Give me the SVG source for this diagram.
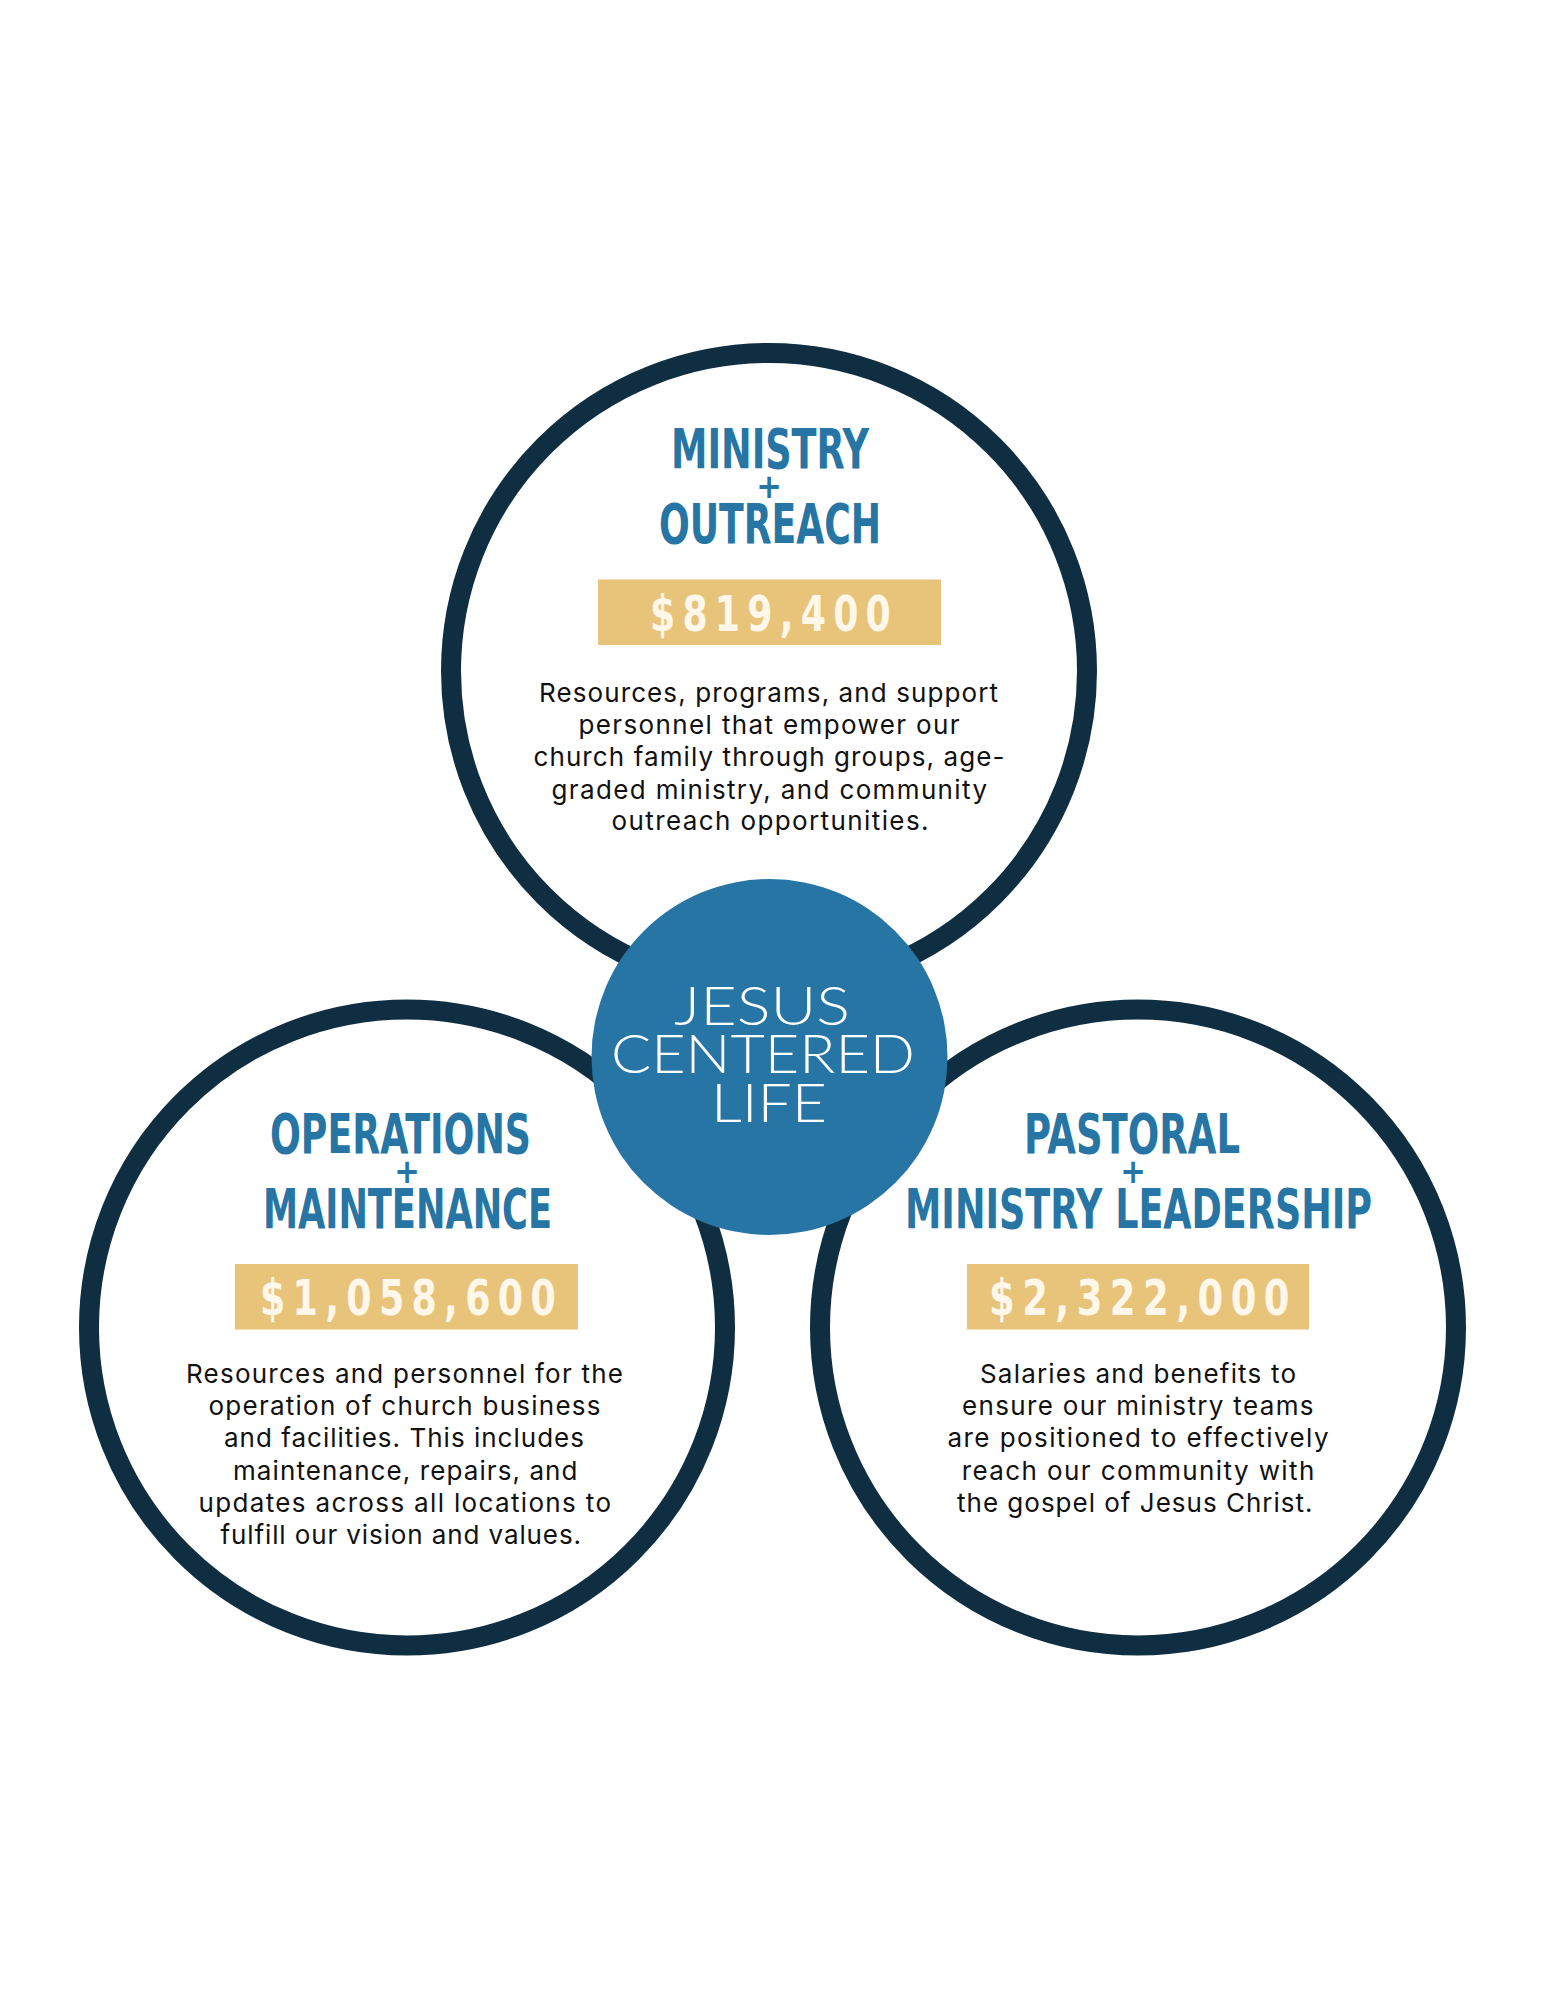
<svg xmlns="http://www.w3.org/2000/svg" width="1545" height="1999" viewBox="0 0 1545 1999">
<style>
.ring{fill:#ffffff;stroke:#102e42;stroke-width:20}
.head{font-family:'DejaVu Sans Condensed','DejaVu Sans',sans-serif;font-weight:bold;font-size:56px;fill:#2675a4}
.plus{font-family:'DejaVu Sans Condensed','DejaVu Sans',sans-serif;font-weight:bold;font-size:34px;fill:#2675a4;text-anchor:middle}
.box{fill:#e7c47a}
.amt{font-family:'DejaVu Sans Condensed','DejaVu Sans',sans-serif;font-weight:bold;font-size:50px;fill:#fff7ea;letter-spacing:9px}
.body{font-family:Inter,'Noto Sans',sans-serif;font-size:26px;fill:#111111}
.hub{fill:#2675a4}
.hubt{font-family:Lato,'Open Sans',sans-serif;font-weight:300;font-size:53px;fill:#ffffff}
</style>
<rect x="0" y="0" width="1545" height="1999" fill="#ffffff"/>
<g id="connectors"></g>

<g id="node-ministry-outreach">
<circle class="ring" cx="769" cy="671" r="318"/>
<text class="head" x="671" y="468" textLength="198" lengthAdjust="spacingAndGlyphs">MINISTRY</text>
<text class="plus" x="769" y="498">+</text>
<text class="head" x="659" y="543" textLength="222" lengthAdjust="spacingAndGlyphs">OUTREACH</text>
<rect class="box" x="598" y="579.5" width="343" height="65.5"/>
<text class="amt" x="650" y="630.5" textLength="248" lengthAdjust="spacingAndGlyphs">$819,400</text>
<text class="body" x="539" y="702" textLength="459" lengthAdjust="spacing">Resources, programs, and support</text>
<text class="body" x="578.5" y="734" textLength="381" lengthAdjust="spacing">personnel that empower our</text>
<text class="body" x="533.5" y="766" textLength="471" lengthAdjust="spacing">church family through groups, age-</text>
<text class="body" x="551.5" y="798.5" textLength="435.5" lengthAdjust="spacing">graded ministry, and community</text>
<text class="body" x="611.5" y="830" textLength="317" lengthAdjust="spacing">outreach opportunities.</text>
</g>

<g id="node-operations-maintenance">
<circle class="ring" cx="407" cy="1327.5" r="318"/>
<text class="head" x="270" y="1153" textLength="261" lengthAdjust="spacingAndGlyphs">OPERATIONS</text>
<text class="plus" x="407" y="1183">+</text>
<text class="head" x="263" y="1227.5" textLength="289" lengthAdjust="spacingAndGlyphs">MAINTENANCE</text>
<rect class="box" x="235" y="1264" width="343" height="65.5"/>
<text class="amt" x="260" y="1315" textLength="303" lengthAdjust="spacingAndGlyphs">$1,058,600</text>
<text class="body" x="186" y="1383" textLength="437" lengthAdjust="spacing">Resources and personnel for the</text>
<text class="body" x="208.5" y="1415.2" textLength="392" lengthAdjust="spacing">operation of church business</text>
<text class="body" x="224" y="1447.4" textLength="360" lengthAdjust="spacing">and facilities. This includes</text>
<text class="body" x="233" y="1479.6" textLength="344.5" lengthAdjust="spacing">maintenance, repairs, and</text>
<text class="body" x="198.5" y="1511.8" textLength="412.5" lengthAdjust="spacing">updates across all locations to</text>
<text class="body" x="220.5" y="1544" textLength="360.5" lengthAdjust="spacing">fulfill our vision and values.</text>
</g>

<g id="node-pastoral-leadership">
<circle class="ring" cx="1138" cy="1327.5" r="318"/>
<text class="head" x="1024" y="1153" textLength="216" lengthAdjust="spacingAndGlyphs">PASTORAL</text>
<text class="plus" x="1133" y="1183">+</text>
<text class="head" x="905" y="1227.5" textLength="467" lengthAdjust="spacingAndGlyphs">MINISTRY LEADERSHIP</text>
<rect class="box" x="967" y="1264" width="342" height="65.5"/>
<text class="amt" x="989" y="1315" textLength="308" lengthAdjust="spacingAndGlyphs">$2,322,000</text>
<text class="body" x="980" y="1383" textLength="316" lengthAdjust="spacing">Salaries and benefits to</text>
<text class="body" x="962" y="1415.2" textLength="351.5" lengthAdjust="spacing">ensure our ministry teams</text>
<text class="body" x="947.5" y="1447.4" textLength="381" lengthAdjust="spacing">are positioned to effectively</text>
<text class="body" x="961.8" y="1479.6" textLength="352.5" lengthAdjust="spacing">reach our community with</text>
<text class="body" x="957" y="1511.8" textLength="355.5" lengthAdjust="spacing">the gospel of Jesus Christ.</text>
</g>

<g id="node-jesus-centered-life">
<circle class="hub" cx="769.5" cy="1057" r="178"/>
<text class="hubt" x="674" y="1025" textLength="176" lengthAdjust="spacingAndGlyphs">JESUS</text>
<text class="hubt" x="611" y="1073.3" textLength="304" lengthAdjust="spacingAndGlyphs">CENTERED</text>
<text class="hubt" x="711" y="1122.3" textLength="116" lengthAdjust="spacingAndGlyphs">LIFE</text>
</g>
</svg>
